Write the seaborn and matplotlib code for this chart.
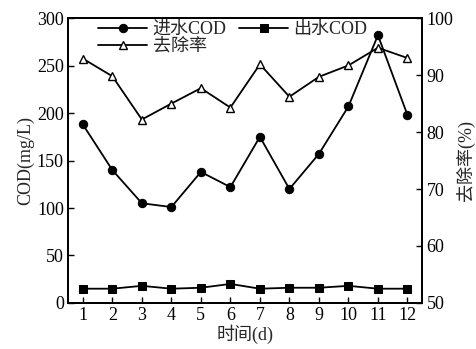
import matplotlib
matplotlib.use("Agg")
import matplotlib.pyplot as plt
import seaborn as sns
import pandas as pd

days = [1, 2, 3, 4, 5, 6, 7, 8, 9, 10, 11, 12]
influent_cod = [188, 140, 105, 101, 138, 122, 175, 120, 157, 207, 282, 198]
effluent_cod = [15, 15, 18, 15, 16, 20, 15, 16, 16, 18, 15, 15]
removal_rate = [92.9, 89.8, 82.2, 85.0, 87.7, 84.3, 91.9, 86.2, 89.7, 91.7, 94.8, 93.0]

df = pd.DataFrame({"day": days, "in": influent_cod, "out": effluent_cod, "rate": removal_rate})

sns.set_theme(style="white")
fam = ["Liberation Serif", "Noto Sans CJK SC"]
plt.rcParams["font.family"] = fam
plt.rcParams["xtick.direction"] = "in"
plt.rcParams["ytick.direction"] = "in"

fig = plt.figure(figsize=(4.76, 3.49), dpi=100)
ax = fig.add_axes([0.143, 0.132, 0.744, 0.816])
ax2 = ax.twinx()

ms = 6
sns.lineplot(data=df, x="day", y="in", ax=ax, color="black", marker="o", markersize=ms,
             markeredgecolor="black", linewidth=1.3, label="进水COD", legend=False)
sns.lineplot(data=df, x="day", y="out", ax=ax, color="black", marker="s", markersize=ms,
             markeredgecolor="black", linewidth=1.3, label="出水COD", legend=False)
sns.lineplot(data=df, x="day", y="rate", ax=ax2, color="black", marker="^", markersize=ms,
             markerfacecolor="white", markeredgecolor="black", markeredgewidth=1.0,
             linewidth=1.3, label="去除率", legend=False)

ax.set_xlim(0.5, 12.5)
ax.set_ylim(0, 300)
ax2.set_ylim(50, 100)
ax.set_xticks(days)
ax.set_yticks([0, 50, 100, 150, 200, 250, 300])
ax2.set_yticks([50, 60, 70, 80, 90, 100])

fs = 13
for a in (ax, ax2):
    for s in a.spines.values():
        s.set_color("black")
        s.set_linewidth(1.3)
    a.tick_params(labelsize=fs, length=4, width=1, colors="black", pad=3)
ax.tick_params(axis="x", bottom=True, top=False)
ax.tick_params(axis="y", left=True, right=False)
ax2.tick_params(axis="y", right=True, left=False)

ax.set_xlabel("时间(d)", fontsize=fs, labelpad=0, family=fam)
ax.set_ylabel("COD(mg/L)", fontsize=fs, labelpad=2, family=fam)
ax2.set_ylabel("去除率(%)", fontsize=fs, labelpad=2, family=fam)

h1, l1 = ax.get_legend_handles_labels()
h2, l2 = ax2.get_legend_handles_labels()
handles = [h1[0], h2[0], h1[1]]
labels = [l1[0], l2[0], l1[1]]
leg = ax.legend(handles, labels, ncol=2, loc="upper left", bbox_to_anchor=(0.05, 1.035),
                frameon=False, handlelength=2.7, columnspacing=0.7,
                labelspacing=0.0, handletextpad=0.3, borderpad=0.2,
                prop={"family": fam, "size": fs})

fig.savefig("out.png", dpi=100)
